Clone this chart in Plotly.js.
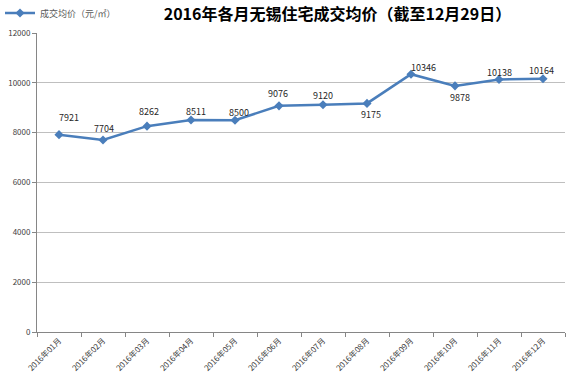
<!DOCTYPE html>
<html><head><meta charset="utf-8">
<script src="https://cdn.plot.ly/plotly-3.0.1.min.js"></script>
<style>html,body{margin:0;padding:0;background:#fff}#c{width:572px;height:384px}</style>
</head><body><div id="c"></div>
<script>
const months = ["2016年01月","2016年02月","2016年03月","2016年04月","2016年05月","2016年06月","2016年07月","2016年08月","2016年09月","2016年10月","2016年11月","2016年12月"];
const prices = [7921, 7704, 8262, 8511, 8500, 9076, 9120, 9175, 10346, 9878, 10138, 10164];
const yTicks = [0, 2000, 4000, 6000, 8000, 10000, 12000];
const seriesName = "成交均价（元/㎡）";
const chartTitle = "2016年各月无锡住宅成交均价（截至12月29日）";
const labelYShift = [17, 12, 15, 8, 8, 12, 9, -11, 7, -12, 7, 8];
const labelXShift = [10, 1, 2, 5, 4, -1, 0, 4, 12, 5, 0, -2];

const font = "'Noto Sans CJK SC', 'Liberation Sans', sans-serif";
const trace = {
  x: months, y: prices, type: 'scatter', mode: 'lines+markers', name: seriesName,
  line: {color: '#4a7ebb', width: 2.5},
  marker: {symbol: 'diamond', size: 7, color: '#4a7ebb'},
  showlegend: true
};
const annotations = prices.map((v, i) => ({
  x: months[i], y: v, xref: 'x', yref: 'y', text: String(v), showarrow: false,
  yshift: labelYShift[i], xshift: labelXShift[i],
  font: {family: font, size: 9, color: '#262626'}
}));
const layout = {
  width: 572, height: 384,
  margin: {l: 37, r: 7, t: 33, b: 52, autoexpand: false},
  paper_bgcolor: '#fff', plot_bgcolor: '#fff',
  title: {text: chartTitle, x: 0.59, xref: 'container', xanchor: 'center', y: 0.962, yref: 'container', yanchor: 'middle',
    font: {family: font, size: 16, color: '#000', weight: 'bold'}},
  showlegend: true,
  legend: {x: 0, y: 0.966, xref: 'container', yref: 'container', xanchor: 'left', yanchor: 'middle',
    font: {family: font, size: 9, color: '#595959'}, itemwidth: 30, bgcolor: 'rgba(0,0,0,0)', tracegroupgap: 0},
  xaxis: {
    type: 'category', range: [-0.5, months.length - 0.5], tickangle: -45, ticks: 'outside', ticklen: 4, tickcolor: '#868686', tickson: 'boundaries',
    showline: true, linecolor: '#868686', linewidth: 1, showgrid: false, zeroline: false, automargin: false,
    tickfont: {family: font, size: 8, color: '#404040'}, fixedrange: true
  },
  yaxis: {
    range: [0, 12000], tickmode: 'array', tickvals: yTicks, ticktext: yTicks.map(String), ticks: 'outside', ticklen: 4, tickcolor: '#868686',
    showline: true, linecolor: '#868686', linewidth: 1, showgrid: true, gridcolor: '#bfbfbf', gridwidth: 1, zeroline: false, automargin: false,
    tickfont: {family: font, size: 8, color: '#404040'}, fixedrange: true
  },
  annotations: annotations
};
Plotly.newPlot('c', [trace], layout, {displayModeBar: false, staticPlot: true});
</script></body></html>
